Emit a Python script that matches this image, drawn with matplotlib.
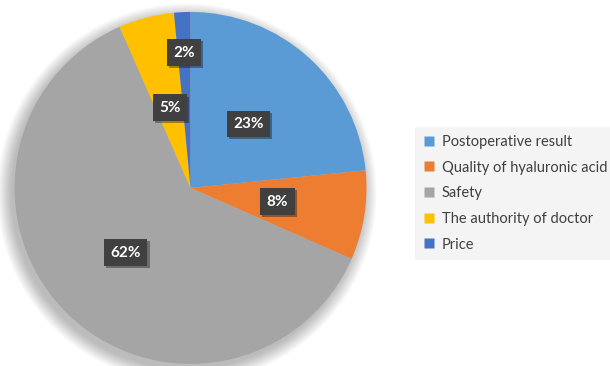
import numpy as np
import matplotlib.pyplot as plt
import matplotlib.patheffects as pe
from matplotlib.lines import Line2D
from matplotlib.patches import Circle

# data
categories = ["Postoperative result", "Quality of hyaluronic acid", "Safety",
              "The authority of doctor", "Price"]
shares = [23.4, 8.2, 61.8, 5.1, 1.5]
pct_labels = ["23%", "8%", "62%", "5%", "2%"]
colors = ["#5B9BD5", "#ED7D31", "#A5A5A5", "#FFC000", "#4472C4"]

# where each label sits along its wedge (fraction of radius)
label_dist = [0.49, 0.5, 0.52, 0.47, 0.77]

plt.rcParams['font.family'] = ['Lato', 'DejaVu Sans']

fig = plt.figure(figsize=(6.1, 3.66), dpi=100)
ax = fig.add_axes([0.0238, 0.0055, 0.577, 0.962])

# soft shadow behind the pie
for i in range(14):
    ax.add_patch(Circle((-0.02, -0.03), 1.0 + i * 0.006, color="black",
                        alpha=0.02, lw=0, clip_on=False, zorder=0))

wedges, _ = ax.pie(shares, colors=colors, startangle=90, counterclock=False,
                   wedgeprops=dict(linewidth=0))
for w in wedges:
    w.set_zorder(2)

for w, txt, d in zip(wedges, pct_labels, label_dist):
    ang = np.deg2rad((w.theta1 + w.theta2) / 2)
    t = ax.text(d * np.cos(ang), d * np.sin(ang), txt, ha="center", va="center",
                color="white", fontsize=11, fontweight="bold", zorder=5,
                bbox=dict(boxstyle="square,pad=0.42", fc="#404040", ec="none"))
    t.get_bbox_patch().set_path_effects([
        pe.SimplePatchShadow(offset=(1.5, -1.5), shadow_rgbFace="black", alpha=0.35),
        pe.Normal()])

ax.set_xlim(-1, 1)
ax.set_ylim(-1, 1)
ax.set_aspect("equal")
ax.axis("off")

handles = [Line2D([], [], marker="s", linestyle="none", markersize=7,
                  markerfacecolor=c, markeredgecolor="none") for c in colors]
leg = fig.legend(handles, categories, loc="center left",
                 bbox_to_anchor=(0.68, 0.472), fontsize=10.5, frameon=True,
                 fancybox=False, edgecolor="none", facecolor="#F4F4F4",
                 framealpha=1, labelspacing=0.8, handlelength=0.8,
                 handletextpad=0.5, borderpad=0.55, borderaxespad=0)
for txt in leg.get_texts():
    txt.set_color("#404040")

fig.savefig("out.png", dpi=100)
